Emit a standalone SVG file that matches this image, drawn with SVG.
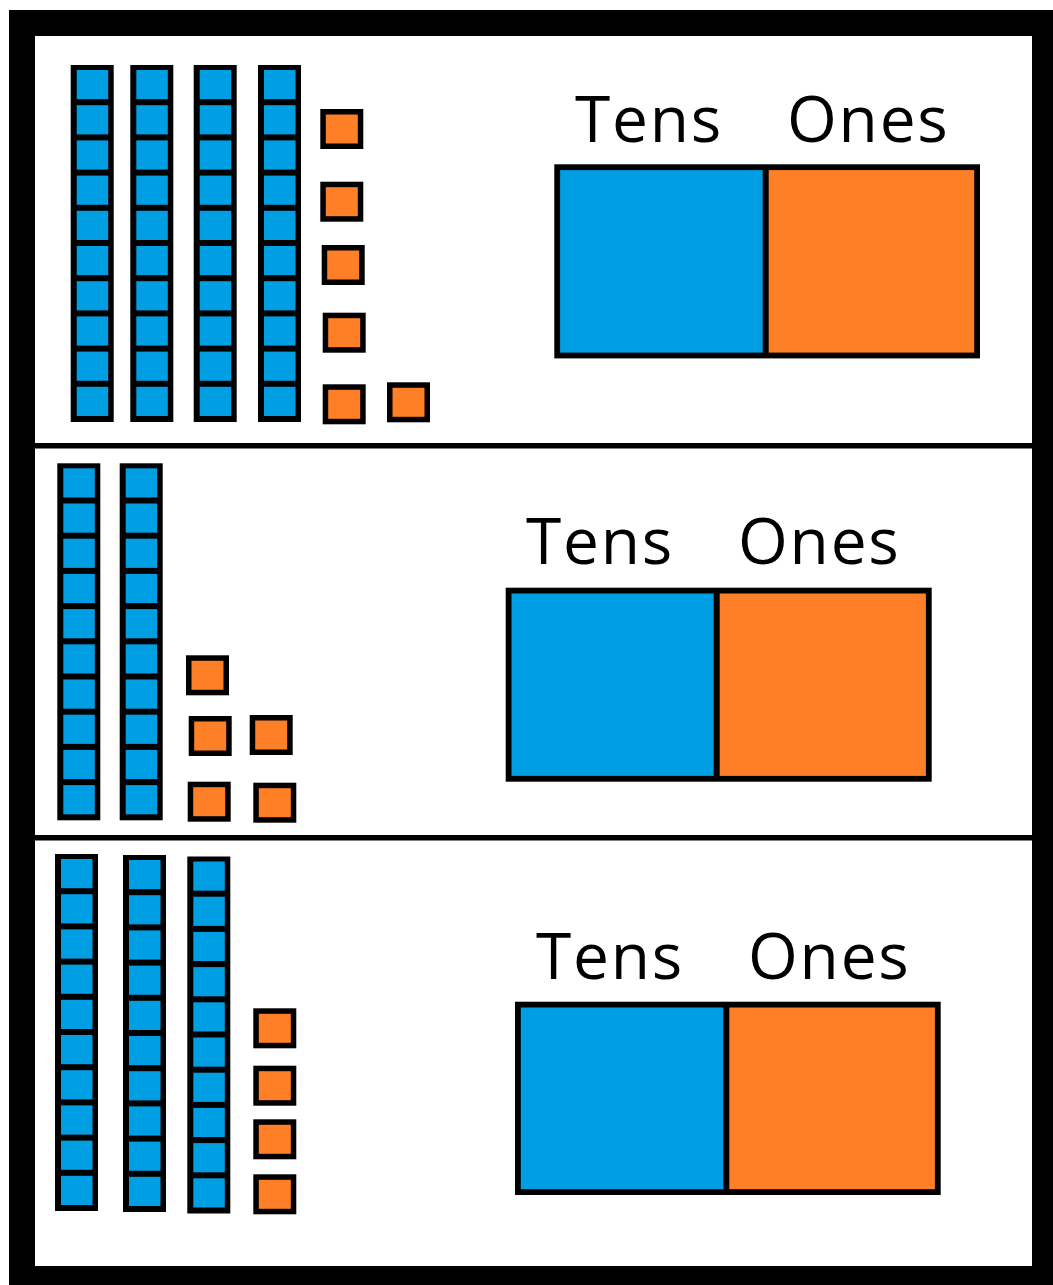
<svg xmlns="http://www.w3.org/2000/svg" xmlns:xlink="http://www.w3.org/1999/xlink" width="1053" height="1285" viewBox="0 0 1053 1285">
<style>
.frame{fill:#000}
.page{fill:#fff}
.sep{stroke:#000;stroke-width:5.5}
.blue{fill:#009FE3}
.orange{fill:#FF7F27}
.ink{fill:#000}
.unit{fill:#FF7F27;stroke:#000;stroke-width:5.5}
.cellT{fill:#009FE3}
.cellO{fill:#FF7F27}
.box{fill:none;stroke:#000;stroke-width:5.8}
.div{stroke:#000;stroke-width:6}
.lbl{font-family:"Open Sans","Noto Sans","DejaVu Sans",sans-serif;font-size:64px;letter-spacing:1.8px;fill:#000}
</style>
<defs>
<g id="rod">
<rect class="ink" x="0" y="0" width="43" height="357"/>
<rect class="blue" x="6" y="5" width="31.5" height="29.2"/>
<rect class="blue" x="6" y="40.2" width="31.5" height="29.2"/>
<rect class="blue" x="6" y="75.4" width="31.5" height="29.2"/>
<rect class="blue" x="6" y="110.6" width="31.5" height="29.2"/>
<rect class="blue" x="6" y="145.8" width="31.5" height="29.2"/>
<rect class="blue" x="6" y="181" width="31.5" height="29.2"/>
<rect class="blue" x="6" y="216.2" width="31.5" height="29.2"/>
<rect class="blue" x="6" y="251.4" width="31.5" height="29.2"/>
<rect class="blue" x="6" y="286.6" width="31.5" height="29.2"/>
<rect class="blue" x="6" y="321.8" width="31.5" height="29.2"/>
</g>
<rect id="one" class="unit" x="2.75" y="2.75" width="37.5" height="34.5"/>
</defs>
<rect class="page" x="0" y="0" width="1053" height="1285"/>
<rect class="frame" x="9" y="10" width="1044" height="1275"/>
<rect class="page" x="35" y="36" width="997" height="1230"/>
<g id="separators">
<line class="sep" x1="35" y1="445.8" x2="1032" y2="445.8"/>
<line class="sep" x1="35" y1="837.8" x2="1032" y2="837.8"/>
</g>
<g id="connectors"/>

<g id="panel1-blocks">
<use xlink:href="#rod" href="#rod" x="70.7" y="65"/>
<use xlink:href="#rod" href="#rod" x="130.3" y="65"/>
<use xlink:href="#rod" href="#rod" x="193.7" y="65"/>
<use xlink:href="#rod" href="#rod" x="258" y="65"/>
<use xlink:href="#one" href="#one" x="320.3" y="109"/>
<use xlink:href="#one" href="#one" x="320.3" y="181.7"/>
<use xlink:href="#one" href="#one" x="321.7" y="245"/>
<use xlink:href="#one" href="#one" x="322.7" y="312.7"/>
<use xlink:href="#one" href="#one" x="322.7" y="384.3"/>
<use xlink:href="#one" href="#one" x="387" y="382.3"/>
</g>
<g id="panel1-chart">
<rect class="cellT" x="557.2" y="167.2" width="208.5" height="188.3"/>
<rect class="cellO" x="765.7" y="167.2" width="211.4" height="188.3"/>
<rect class="box" x="557.2" y="167.2" width="419.9" height="188.3"/>
<line class="div" x1="765.7" y1="167.2" x2="765.7" y2="355.5"/>
<text class="lbl" x="575" y="142.3">Tens</text>
<text class="lbl" x="787" y="142.3">Ones</text>
</g>

<g id="panel2-blocks">
<use xlink:href="#rod" href="#rod" x="57.3" y="463.3"/>
<use xlink:href="#rod" href="#rod" x="119.7" y="463.3"/>
<use xlink:href="#one" href="#one" x="186" y="655.3"/>
<use xlink:href="#one" href="#one" x="188.7" y="716"/>
<use xlink:href="#one" href="#one" x="249.7" y="715"/>
<use xlink:href="#one" href="#one" x="187.7" y="781.7"/>
<use xlink:href="#one" href="#one" x="253.3" y="782.7"/>
</g>
<g id="panel2-chart">
<rect class="cellT" x="508.6" y="590.6" width="208.1" height="188.2"/>
<rect class="cellO" x="716.7" y="590.6" width="212.1" height="188.2"/>
<rect class="box" x="508.6" y="590.6" width="420.2" height="188.2"/>
<line class="div" x1="716.7" y1="590.6" x2="716.7" y2="778.8"/>
<text class="lbl" x="526" y="564.3">Tens</text>
<text class="lbl" x="738" y="564.3">Ones</text>
</g>

<g id="panel3-blocks">
<use xlink:href="#rod" href="#rod" x="55" y="854"/>
<use xlink:href="#rod" href="#rod" x="123" y="855"/>
<use xlink:href="#rod" href="#rod" x="187.3" y="856.5"/>
<use xlink:href="#one" href="#one" x="253.3" y="1008.3"/>
<use xlink:href="#one" href="#one" x="253.3" y="1065.7"/>
<use xlink:href="#one" href="#one" x="253.3" y="1119.3"/>
<use xlink:href="#one" href="#one" x="253.3" y="1174.3"/>
</g>
<g id="panel3-chart">
<rect class="cellT" x="517.9" y="1004.6" width="208.4" height="187.5"/>
<rect class="cellO" x="726.3" y="1004.6" width="211.5" height="187.5"/>
<rect class="box" x="517.9" y="1004.6" width="419.9" height="187.5"/>
<line class="div" x1="726.3" y1="1004.6" x2="726.3" y2="1192.1"/>
<text class="lbl" x="536" y="979.3">Tens</text>
<text class="lbl" x="748" y="979.3">Ones</text>
</g>
</svg>
